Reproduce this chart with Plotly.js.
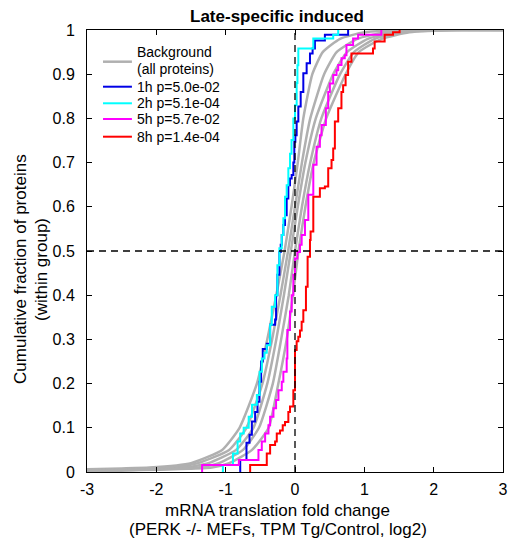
<!DOCTYPE html>
<html>
<head>
<meta charset="utf-8">
<script src="https://cdn.plot.ly/plotly-3.0.1.min.js"></script>
<style>html,body{margin:0;padding:0;background:#fff;}#chart{width:510px;height:544px;}</style>
</head>
<body>
<div id="chart"></div>
<script>
// Background (all proteins) curves
var bg1X = [-3, -2.5, -2.1, -1.5, -1.05, -0.8, -0.55, -0.4, -0.27, -0.15, -0.05, 0.04, 0.12, 0.25, 0.4, 0.65, 1.0, 1.8, 3];
var bg1Y = [0.006, 0.008, 0.01, 0.02, 0.05, 0.1, 0.2, 0.3, 0.4, 0.5, 0.6, 0.7, 0.8, 0.9, 0.95, 0.98, 0.995, 1.0, 1.0];
var bg2X = [-3, -2.5, -1.8, -1.4, -0.95, -0.7, -0.47, -0.33, -0.21, -0.1, 0.0, 0.1, 0.22, 0.42, 0.6, 0.9, 1.3, 2.0, 3];
var bg2Y = [0.004, 0.006, 0.01, 0.02, 0.05, 0.1, 0.2, 0.3, 0.4, 0.5, 0.6, 0.7, 0.8, 0.9, 0.95, 0.98, 0.995, 1.0, 1.0];
var bg3X = [-3, -2.5, -1.6, -1.25, -0.85, -0.6, -0.4, -0.27, -0.16, -0.06, 0.04, 0.15, 0.3, 0.55, 0.75, 1.05, 1.45, 2.2, 3];
var bg3Y = [0.003, 0.005, 0.01, 0.02, 0.05, 0.1, 0.2, 0.3, 0.4, 0.5, 0.6, 0.7, 0.8, 0.9, 0.95, 0.98, 0.995, 1.0, 1.0];
var bg4X = [-3, -2.5, -1.4, -1.1, -0.75, -0.52, -0.32, -0.2, -0.09, 0.0, 0.1, 0.22, 0.38, 0.65, 0.85, 1.15, 1.55, 2.3, 3];
var bg4Y = [0.002, 0.004, 0.01, 0.02, 0.05, 0.1, 0.2, 0.3, 0.4, 0.5, 0.6, 0.7, 0.8, 0.9, 0.95, 0.98, 0.995, 1.0, 1.0];
var bg5X = [-3, -2.5, -1.2, -0.95, -0.62, -0.38, -0.24, -0.12, -0.03, 0.05, 0.15, 0.27, 0.45, 0.73, 0.92, 1.25, 1.65, 2.4, 3];
var bg5Y = [0.002, 0.003, 0.01, 0.02, 0.05, 0.1, 0.2, 0.3, 0.4, 0.5, 0.6, 0.7, 0.8, 0.9, 0.95, 0.98, 0.995, 1.0, 1.0];

// 1h
var h1X = [-0.79, -0.79, -0.70, -0.656, -0.622, -0.575, -0.541, -0.512, -0.489, -0.465, -0.407, -0.359, -0.287, -0.273, -0.254, -0.225, -0.206, -0.191, -0.168, -0.144, -0.12, -0.096, -0.072, -0.048, -0.024, -0.01, 0.005, 0.024, 0.048, 0.082, 0.12, 0.168, 0.216, 0.254, 0.287, 0.431, 0.766];
var h1Y = [0, 0.027, 0.066, 0.084, 0.114, 0.136, 0.159, 0.204, 0.25, 0.278, 0.29, 0.333, 0.345, 0.40, 0.446, 0.498, 0.514, 0.536, 0.559, 0.581, 0.619, 0.649, 0.664, 0.672, 0.70, 0.747, 0.762, 0.793, 0.827, 0.86, 0.902, 0.925, 0.947, 0.958, 0.976, 0.989, 1.0];
// 2h
var h2X = [-1.04, -1.04, -0.895, -0.828, -0.79, -0.74, -0.668, -0.62, -0.55, -0.51, -0.478, -0.44, -0.407, -0.359, -0.335, -0.287, -0.254, -0.225, -0.191, -0.168, -0.144, -0.12, -0.096, -0.072, -0.05, -0.024, 0.0, 0.024, 0.035, 0.048, 0.264, 0.551, 0.623];
var h2Y = [0, 0.016, 0.042, 0.069, 0.087, 0.10, 0.125, 0.152, 0.174, 0.227, 0.257, 0.27, 0.287, 0.333, 0.374, 0.40, 0.468, 0.506, 0.536, 0.574, 0.623, 0.649, 0.687, 0.72, 0.751, 0.80, 0.83, 0.88, 0.92, 0.958, 0.981, 0.989, 1.0];
// 5h
var h5X = [-1.34, -1.34, -0.81, -0.527, -0.479, -0.431, -0.383, -0.359, -0.311, -0.273, -0.239, -0.191, -0.168, -0.12, -0.11, -0.072, -0.048, -0.024, 0.0, 0.034, 0.072, 0.096, 0.144, 0.192, 0.264, 0.311, 0.359, 0.383, 0.445, 0.479, 0.503, 0.551, 0.599, 0.623, 0.671, 0.718, 0.742, 0.838, 0.910, 1.245];
var h5Y = [0, 0.016, 0.027, 0.05, 0.069, 0.087, 0.106, 0.125, 0.144, 0.163, 0.185, 0.204, 0.227, 0.257, 0.321, 0.363, 0.40, 0.446, 0.483, 0.498, 0.514, 0.536, 0.570, 0.627, 0.695, 0.736, 0.762, 0.785, 0.823, 0.860, 0.879, 0.898, 0.909, 0.921, 0.936, 0.943, 0.966, 0.981, 0.989, 1.0];
// 8h
var h8X = [-0.647, -0.647, -0.407, -0.359, -0.287, -0.263, -0.216, -0.177, -0.144, -0.096, -0.072, -0.024, 0.0, 0.024, 0.048, 0.072, 0.096, 0.12, 0.158, 0.182, 0.216, 0.225, 0.264, 0.359, 0.431, 0.479, 0.527, 0.551, 0.575, 0.623, 0.67, 0.694, 0.73, 0.766, 0.814, 1.125, 1.149, 1.293, 1.413, 1.509];
var h8Y = [0, 0.016, 0.042, 0.061, 0.069, 0.087, 0.094, 0.106, 0.113, 0.136, 0.148, 0.185, 0.276, 0.296, 0.306, 0.32, 0.34, 0.366, 0.419, 0.487, 0.525, 0.544, 0.623, 0.642, 0.646, 0.687, 0.706, 0.732, 0.793, 0.823, 0.86, 0.875, 0.898, 0.928, 0.947, 0.958, 0.974, 0.989, 0.995, 1.0];

var bgLabel = ['Background', '(all proteins)'];
var seriesNames = ['1h p=5.0e-02', '2h p=5.1e-04', '5h p=5.7e-02', '8h p=1.4e-04'];
var seriesColors = ['#0000e6', '#00ffff', '#ff00ff', '#ff0000'];
var xTicks = [-3, -2, -1, 0, 1, 2, 3];
var yTicks = [0, 0.1, 0.2, 0.3, 0.4, 0.5, 0.6, 0.7, 0.8, 0.9, 1];
var yTickText = ['0', '0.1', '0.2', '0.3', '0.4', '0.5', '0.6', '0.7', '0.8', '0.9', '1'];
var titleText = 'Late-specific induced';
var xTitleLines = ['mRNA translation fold change', '(PERK -/- MEFs, TPM Tg/Control, log2)'];
var yTitleLines = ['Cumulative fraction of proteins', '(within group)'];

var grey = '#b0b0b0';
var bgX = [bg1X, bg2X, bg3X, bg4X, bg5X];
var bgY = [bg1Y, bg2Y, bg3Y, bg4Y, bg5Y];
var traces = [];
for (var i = 0; i < bgX.length; i++) {
  traces.push({
    x: bgX[i], y: bgY[i], type: 'scatter', mode: 'lines',
    line: {color: grey, width: 2.5, shape: 'spline', smoothing: 0.5},
    name: bgLabel.join(' '), legendgroup: 'bg', hoverinfo: 'skip'
  });
}
var sX = [h1X, h2X, h5X, h8X];
var sY = [h1Y, h2Y, h5Y, h8Y];
for (var j = 0; j < sX.length; j++) {
  traces.push({
    x: sX[j], y: sY[j], type: 'scatter', mode: 'lines',
    line: {color: seriesColors[j], width: 2, shape: 'hv'},
    name: seriesNames[j]
  });
}

var fontFam = 'Liberation Sans, Arial, Helvetica, sans-serif';

// Legend drawn inside the axes (compact line spacing like the original)
var legX0 = 0.0385, legX1 = 0.108, legTextX = 0.1154;
var legRowY = [0.8717, 0.8342, 0.7986, 0.7586];
var annotations = [
  {xref: 'paper', yref: 'paper', x: legTextX, y: 0.9495, xanchor: 'left', yanchor: 'middle', text: bgLabel[0], showarrow: false, font: {size: 14}},
  {xref: 'paper', yref: 'paper', x: legTextX, y: 0.9111, xanchor: 'left', yanchor: 'middle', text: bgLabel[1], showarrow: false, font: {size: 14}},
  // axis titles
  {xref: 'paper', yref: 'paper', x: 0.459, y: -0.086, xanchor: 'center', yanchor: 'middle', text: xTitleLines[0], showarrow: false, font: {size: 17}},
  {xref: 'paper', yref: 'paper', x: 0.459, y: -0.131, xanchor: 'center', yanchor: 'middle', text: xTitleLines[1], showarrow: false, font: {size: 17}},
  {xref: 'paper', yref: 'paper', x: -0.1587, y: 0.4593, xanchor: 'center', yanchor: 'middle', text: yTitleLines[0], textangle: -90, showarrow: false, font: {size: 17}},
  {xref: 'paper', yref: 'paper', x: -0.1082, y: 0.4593, xanchor: 'center', yanchor: 'middle', text: yTitleLines[1], textangle: -90, showarrow: false, font: {size: 17}}
];
var shapes = [
  {type: 'line', xref: 'x', yref: 'y', x0: 0, x1: 0, y0: 0, y1: 1, line: {color: '#000', width: 1.3, dash: '7px,5px'}},
  {type: 'line', xref: 'x', yref: 'y', x0: -3, x1: 3, y0: 0.5, y1: 0.5, line: {color: '#000', width: 1.3, dash: '7px,5px'}},
  {type: 'line', xref: 'paper', yref: 'paper', x0: legX0, x1: legX1, y0: 0.9283, y1: 0.9283, line: {color: grey, width: 2.5}}
];
for (var k = 0; k < seriesNames.length; k++) {
  annotations.push({xref: 'paper', yref: 'paper', x: legTextX, y: legRowY[k], xanchor: 'left', yanchor: 'middle', text: seriesNames[k], showarrow: false, font: {size: 14}});
  shapes.push({type: 'line', xref: 'paper', yref: 'paper', x0: legX0, x1: legX1, y0: legRowY[k], y1: legRowY[k], line: {color: seriesColors[k], width: 2}});
}

var layout = {
  width: 510, height: 544,
  margin: {l: 87, r: 7, t: 30, b: 72},
  paper_bgcolor: '#fff', plot_bgcolor: '#fff',
  font: {family: fontFam, size: 16, color: '#000'},
  title: {text: '<b>' + titleText + '</b>', font: {size: 17, family: fontFam}, x: 0.543, xanchor: 'center', y: 0.971, yanchor: 'middle'},
  showlegend: false,
  xaxis: {
    range: [-3, 3], tickvals: xTicks, ticktext: xTicks.map(String),
    ticks: 'inside', ticklen: 5, tickcolor: '#000', showline: true, linecolor: '#000', linewidth: 1, mirror: 'ticks',
    showgrid: false, zeroline: false, tickfont: {size: 16}, ticklabelstandoff: 3
  },
  yaxis: {
    range: [0, 1], tickvals: yTicks, ticktext: yTickText,
    ticks: 'inside', ticklen: 5, tickcolor: '#000', showline: true, linecolor: '#000', linewidth: 1, mirror: 'ticks',
    showgrid: false, zeroline: false, tickfont: {size: 16}, ticklabelstandoff: 8
  },
  annotations: annotations,
  shapes: shapes
};
Plotly.newPlot('chart', traces, layout, {displayModeBar: false, staticPlot: true});
</script>
</body>
</html>
